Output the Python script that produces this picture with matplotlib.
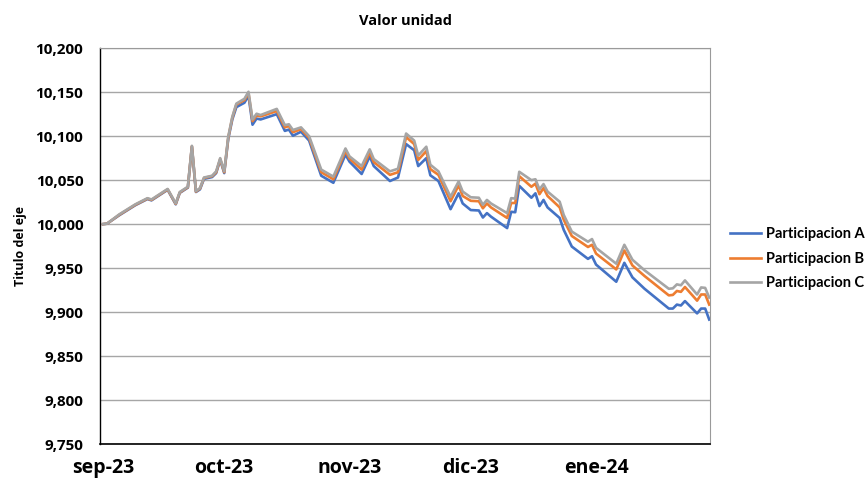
import datetime as dt
import matplotlib
matplotlib.use('Agg')
import matplotlib.pyplot as plt
from matplotlib.ticker import FuncFormatter, MultipleLocator

plt.rcParams['font.family'] = ['Open Sans', 'DejaVu Sans']

# fechas (2023-2024) y valores
fechas = [
    '2023-09-01', '2023-09-02', '2023-09-05', '2023-09-09', '2023-09-12', '2023-09-13',
    '2023-09-17', '2023-09-19', '2023-09-20', '2023-09-22', '2023-09-23', '2023-09-24',
    '2023-09-25', '2023-09-26', '2023-09-28', '2023-09-29', '2023-09-30', '2023-10-01',
    '2023-10-02', '2023-10-03', '2023-10-04', '2023-10-06', '2023-10-07', '2023-10-08',
    '2023-10-09', '2023-10-10', '2023-10-14', '2023-10-16', '2023-10-17', '2023-10-18',
    '2023-10-20', '2023-10-22', '2023-10-25', '2023-10-28', '2023-10-31', '2023-11-01',
    '2023-11-04', '2023-11-06', '2023-11-07', '2023-11-11', '2023-11-13', '2023-11-15',
    '2023-11-17', '2023-11-18', '2023-11-20', '2023-11-21', '2023-11-23', '2023-11-26',
    '2023-11-28', '2023-11-29', '2023-12-01', '2023-12-03', '2023-12-04', '2023-12-05',
    '2023-12-06', '2023-12-10', '2023-12-11', '2023-12-12', '2023-12-13', '2023-12-16',
    '2023-12-17', '2023-12-18', '2023-12-19', '2023-12-20', '2023-12-23', '2023-12-24',
    '2023-12-26', '2023-12-30', '2023-12-31', '2024-01-01', '2024-01-06', '2024-01-08',
    '2024-01-10', '2024-01-13', '2024-01-19', '2024-01-20', '2024-01-21', '2024-01-22',
    '2024-01-23', '2024-01-26', '2024-01-27', '2024-01-28', '2024-01-29',
]

part_a = [
    10000.0, 10000.5, 10010.0, 10021.5, 10028.5, 10027.0,
    10039.0, 10022.5, 10035.5, 10041.5, 10088.0, 10036.5,
    10039.5, 10051.5, 10053.5, 10058.0, 10073.0, 10058.0,
    10097.0, 10119.0, 10133.0, 10138.0, 10146.0, 10113.0,
    10120.0, 10119.0, 10125.0, 10106.0, 10107.5, 10100.5,
    10105.0, 10095.0, 10055.0, 10047.0, 10079.0, 10071.0,
    10057.0, 10077.0, 10066.0, 10049.0, 10053.0, 10091.0,
    10084.0, 10066.0, 10075.0, 10055.5, 10049.0, 10017.0,
    10035.0, 10023.5, 10016.0, 10015.5, 10007.5, 10012.5,
    10008.5, 9995.5, 10014.0, 10013.5, 10043.5, 10030.0,
    10035.0, 10020.5, 10027.5, 10019.0, 10007.0, 9993.5,
    9974.5, 9960.5, 9963.5, 9954.0, 9934.5, 9956.0,
    9939.5, 9926.5, 9904.0, 9904.0, 9908.5, 9907.5,
    9912.5, 9898.5, 9904.0, 9904.0, 9891.5,
]

part_b = [
    10000.0, 10000.5, 10010.5, 10022.0, 10029.0, 10027.5,
    10039.5, 10023.0, 10036.0, 10042.0, 10088.5, 10037.0,
    10040.5, 10052.5, 10054.5, 10059.0, 10074.0, 10059.0,
    10098.5, 10121.0, 10136.0, 10141.0, 10149.0, 10117.0,
    10123.5, 10122.5, 10128.5, 10110.0, 10111.5, 10104.5,
    10108.0, 10098.0, 10059.0, 10051.0, 10083.0, 10074.5,
    10062.0, 10081.5, 10070.5, 10056.0, 10059.0, 10099.0,
    10091.0, 10073.0, 10083.0, 10062.5, 10056.0, 10026.0,
    10044.0, 10032.0, 10026.5, 10026.0, 10018.0, 10023.5,
    10019.0, 10007.0, 10024.0, 10024.0, 10054.5, 10042.5,
    10046.0, 10034.0, 10041.0, 10032.0, 10019.0, 10005.0,
    9986.5, 9974.0, 9976.5, 9966.5, 9948.5, 9970.0,
    9953.0, 9941.0, 9919.0, 9919.5, 9924.0, 9923.0,
    9928.5, 9913.0, 9920.0, 9920.0, 9908.5,
]

part_c = [
    10000.0, 10000.5, 10011.0, 10022.5, 10029.5, 10028.0,
    10040.0, 10023.5, 10036.5, 10042.5, 10089.0, 10037.5,
    10041.0, 10053.0, 10055.0, 10060.0, 10075.0, 10060.0,
    10099.5, 10122.0, 10137.0, 10142.5, 10150.5, 10119.0,
    10125.5, 10124.0, 10131.0, 10112.5, 10113.5, 10107.0,
    10110.0, 10100.0, 10062.0, 10054.0, 10086.0, 10077.0,
    10066.0, 10085.0, 10074.0, 10060.0, 10063.0, 10103.0,
    10095.0, 10078.0, 10088.0, 10067.5, 10060.0, 10031.0,
    10048.5, 10037.0, 10030.5, 10030.0, 10022.0, 10027.5,
    10023.5, 10012.5, 10029.5, 10029.0, 10059.5, 10050.0,
    10051.0, 10039.5, 10045.5, 10037.0, 10025.5, 10010.5,
    9991.5, 9980.0, 9983.0, 9973.0, 9955.0, 9976.5,
    9959.5, 9947.5, 9926.5, 9927.0, 9931.5, 9930.5,
    9936.0, 9920.0, 9928.0, 9927.5, 9916.5,
]

etiquetas_mes = ['sep-23', 'oct-23', 'nov-23', 'dic-23', 'ene-24']
inicio_mes = ['2023-09-01', '2023-10-01', '2023-11-01', '2023-12-01', '2024-01-01']

x = [dt.datetime.strptime(f, '%Y-%m-%d') for f in fechas]
ticks = [dt.datetime.strptime(f, '%Y-%m-%d') for f in inicio_mes]

fig = plt.figure(figsize=(8.68, 4.82), dpi=100)
ax = fig.add_axes([0.1152, 0.0788, 0.7028, 0.8212])

ax.plot(x, part_a, color='#4472C4', lw=1.9, label='Participacion A', zorder=3)
ax.plot(x, part_b, color='#ED7D31', lw=1.9, label='Participacion B', zorder=4)
ax.plot(x, part_c, color='#A5A5A5', lw=1.9, label='Participacion C', zorder=5)

ax.set_ylim(9750, 10200)
ax.yaxis.set_major_locator(MultipleLocator(50))
ax.yaxis.set_major_formatter(FuncFormatter(lambda v, p: f'{v:,.0f}'))
ax.grid(axis='y', color='#A6A6A6', lw=1.0)
ax.set_axisbelow(True)

t0 = ticks[0]
ax.set_xlim(t0 - dt.timedelta(days=0.74), t0 + dt.timedelta(days=150.2))
ax.set_xticks(ticks)
ax.set_xticklabels(etiquetas_mes)

for lab in ax.get_yticklabels():
    lab.set_fontweight('bold')
    lab.set_fontsize(11)
for lab in ax.get_xticklabels():
    lab.set_fontweight('bold')
    lab.set_fontsize(14)

ax.tick_params(axis='y', length=0, pad=12)
ax.tick_params(axis='x', length=0, pad=10)

ax.spines['left'].set_color('#000000')
ax.spines['left'].set_linewidth(1.0)
ax.spines['bottom'].set_color('#000000')
ax.spines['bottom'].set_linewidth(1.2)
for s in ('top', 'right'):
    ax.spines[s].set_color('#9A9A9A')
    ax.spines[s].set_linewidth(0.8)
    ax.spines[s].set_linestyle((0, (1, 1)))

ax.set_title('Valor unidad', fontsize=10.5, fontweight='bold', pad=17)
ax.set_ylabel('Titulo del eje', fontsize=9, fontweight='bold', labelpad=6)

leg = fig.legend(loc='center left', bbox_to_anchor=(0.826, 0.463), frameon=False,
                 prop={'family': ['Lato', 'DejaVu Sans'], 'weight': 'bold', 'size': 10.5},
                 handlelength=2.1, handletextpad=0.35, labelspacing=0.72)
for line in leg.get_lines():
    line.set_linewidth(1.9)

fig.savefig('out.png', dpi=100)
